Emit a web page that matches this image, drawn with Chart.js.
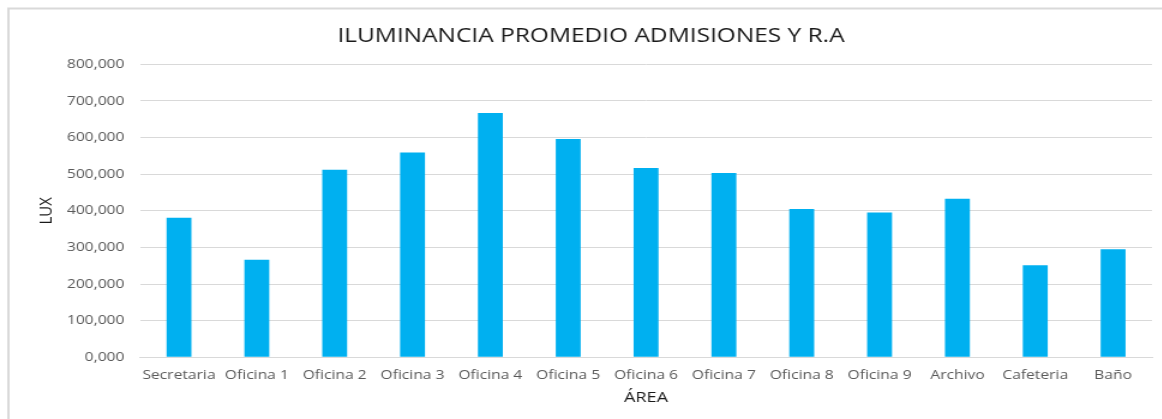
<!DOCTYPE html>
<html>
<head>
<meta charset="utf-8">
<title>Iluminancia promedio</title>
<script src="https://cdn.jsdelivr.net/npm/chart.js@4/dist/chart.umd.min.js"></script>
<style>
    html, body { margin: 0; padding: 0; background: #fff; overflow: hidden; }
    /* the chart is drawn narrower and stretched sideways, like the pasted Excel image */
    #wrap {
        width: 968px;
        height: 419px;
        transform: scaleX(1.2);
        transform-origin: 0 0;
    }
</style>
</head>
<body>
<div id="wrap"><canvas id="chart-lux"></canvas></div>
<script>
//////////////////////////////////////////////// Datos
const areas = ['Secretaria', 'Oficina 1', 'Oficina 2', 'Oficina 3', 'Oficina 4', 'Oficina 5',
    'Oficina 6', 'Oficina 7', 'Oficina 8', 'Oficina 9', 'Archivo', 'Cafeteria', 'Baño']
const luxPromedio = [381, 266, 512, 559, 667, 596, 517, 503, 405, 395, 433, 251, 295]
const ejeLux = [0, 100, 200, 300, 400, 500, 600, 700, 800]

const fuente = "'Open Sans', 'DejaVu Sans', sans-serif"
const gris = '#595959'

// borde del grafico (solo izquierda y arriba se ven)
const bordeGrafico = {
    id: 'bordeGrafico',
    beforeDraw(chart) {
        const c = chart.ctx
        c.save()
        c.strokeStyle = '#d9d9d9'
        c.lineWidth = 2
        c.beginPath()
        c.moveTo(7, chart.height + 2)
        c.lineTo(7, 8.5)
        c.lineTo(chart.width + 2, 8.5)
        c.stroke()
        c.restore()
    }
}

//////////////////////////////////////////////// Chart
const ctx = document.getElementById('chart-lux');

new Chart(ctx, {
    type: 'bar',
    data: {
        labels: areas,
        datasets: [{
            label: 'LUX',
            data: luxPromedio,
            backgroundColor: '#00b0f0',
            barPercentage: 0.32,
            categoryPercentage: 1
        }]
    },
    options: {
        maintainAspectRatio: false,
        responsive: true,
        animation: false,
        layout: {
            padding: { left: 25, right: 8, top: 0, bottom: 0 }
        },
        plugins: {
            legend: { display: false },
            tooltip: { enabled: false },
            title: {
                display: true,
                text: 'ILUMINANCIA PROMEDIO ADMISIONES Y R.A',
                color: '#1a1a1a',
                font: { family: fuente, size: 20.4, weight: 'normal', lineHeight: 1.2 },
                padding: { top: 24, bottom: 15.8 }
            }
        },
        scales: {
            x: {
                grid: { display: false, drawTicks: false },
                border: { display: true, color: '#d9d9d9' },
                ticks: {
                    color: gris,
                    font: { family: fuente, size: 13 },
                    padding: 10,
                    autoSkip: false,
                    maxRotation: 0
                },
                title: {
                    display: true,
                    text: 'ÁREA',
                    color: '#1a1a1a',
                    font: { family: fuente, size: 15, lineHeight: 1.2 },
                    padding: { top: 0, bottom: 12.5 }
                },
                afterFit: s => { s.height = 61.7 }
            },
            y: {
                min: 0,
                max: 800,
                afterBuildTicks: s => { s.ticks = ejeLux.map(v => ({ value: v })) },
                grid: { color: '#d9d9d9', drawTicks: false },
                border: { display: false },
                ticks: {
                    color: gris,
                    font: { family: fuente, size: 13 },
                    padding: 13,
                    callback: v => v.toFixed(3).replace('.', ',')
                },
                title: {
                    display: true,
                    text: 'LUX',
                    color: '#1a1a1a',
                    font: { family: fuente, size: 15, lineHeight: 1.2 },
                    padding: { top: 4.3, bottom: 0 }
                },
                afterFit: s => { s.width = 91.7 }
            }
        }
    },
    plugins: [bordeGrafico]
});
</script>
</body>
</html>
